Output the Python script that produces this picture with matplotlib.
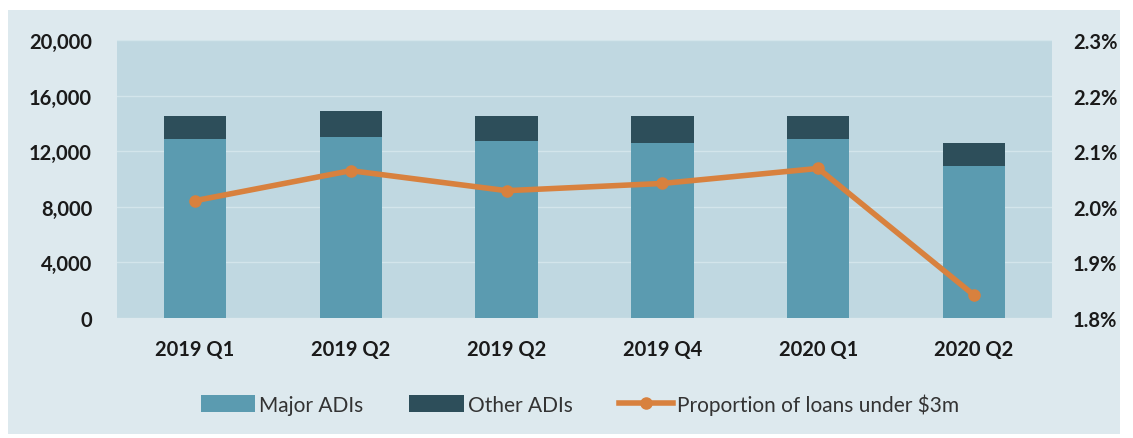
import numpy as np
import matplotlib.pyplot as plt
from matplotlib.patches import Rectangle
from matplotlib.ticker import FuncFormatter

quarters = ['2019 Q1', '2019 Q2', '2019 Q2', '2019 Q4', '2020 Q1', '2020 Q2']
major_adis = [12900, 13000, 12750, 12600, 12850, 10900]
other_adis = [1650, 1900, 1800, 1950, 1700, 1700]
proportion = [2.011, 2.065, 2.029, 2.042, 2.069, 1.841]

c_major = '#5b9bb0'
c_other = '#2d4e5a'
c_line = '#d8813e'
c_panel = '#dde9ee'
c_plot = '#c0d8e1'

plt.rcParams['font.family'] = ['Lato', 'DejaVu Sans']

fig = plt.figure(figsize=(11.33, 4.39), dpi=100)
fig.patch.set_facecolor('white')
fig.patches.append(Rectangle((8 / 1133, 1 - 435 / 439), 1112 / 1133, 424 / 439,
                             transform=fig.transFigure, facecolor=c_panel,
                             edgecolor='none', zorder=-10))

ax = fig.add_axes([117 / 1133, 1 - 319 / 439, 935 / 1133, 278 / 439])
ax.set_facecolor(c_plot)
x = np.arange(len(quarters))
b1 = ax.bar(x, major_adis, width=0.4, color=c_major, label='Major ADIs', zorder=3)
b2 = ax.bar(x, other_adis, width=0.4, bottom=major_adis, color=c_other,
            label='Other ADIs', zorder=3)
ax.set_xlim(-0.5, len(quarters) - 0.5)
ax.set_ylim(0, 20000)
ax.set_yticks(np.arange(0, 20001, 4000))
ax.yaxis.set_major_formatter(FuncFormatter(lambda v, p: f'{v:,.0f}'))
ax.grid(axis='y', color='#d3e5eb', linewidth=1.0, zorder=0)
ax.set_xticks(x)
ax.set_xticklabels(quarters)
for s in ax.spines.values():
    s.set_visible(False)
ax.tick_params(length=0, labelsize=14.5, colors='#1a1a1a')
ax.tick_params(axis='x', pad=15)
ax.tick_params(axis='y', pad=18)
for lab in ax.get_xticklabels() + ax.get_yticklabels():
    lab.set_fontweight('bold')

ax2 = ax.twinx()
ln, = ax2.plot(x, proportion, color=c_line, lw=4, marker='o', markersize=8,
               label='Proportion of loans under $3m', zorder=5)
ax2.set_ylim(1.8, 2.3)
ax2.set_yticks([1.8, 1.9, 2.0, 2.1, 2.2, 2.3])
ax2.yaxis.set_major_formatter(FuncFormatter(lambda v, p: f'{v:.1f}%'))
for s in ax2.spines.values():
    s.set_visible(False)
ax2.tick_params(length=0, labelsize=14.5, colors='#1a1a1a', pad=15)
for lab in ax2.get_yticklabels():
    lab.set_fontweight('bold')

fig.legend([b1, b2, ln], ['Major ADIs', 'Other ADIs', 'Proportion of loans under $3m'],
           loc='center', bbox_to_anchor=(580 / 1133, 1 - 405 / 439), ncol=3,
           frameon=False, fontsize=15, handlelength=2.6, handleheight=0.9,
           columnspacing=2.2, handletextpad=0.2, labelcolor='#333333')

fig.savefig('out.png', dpi=100)
